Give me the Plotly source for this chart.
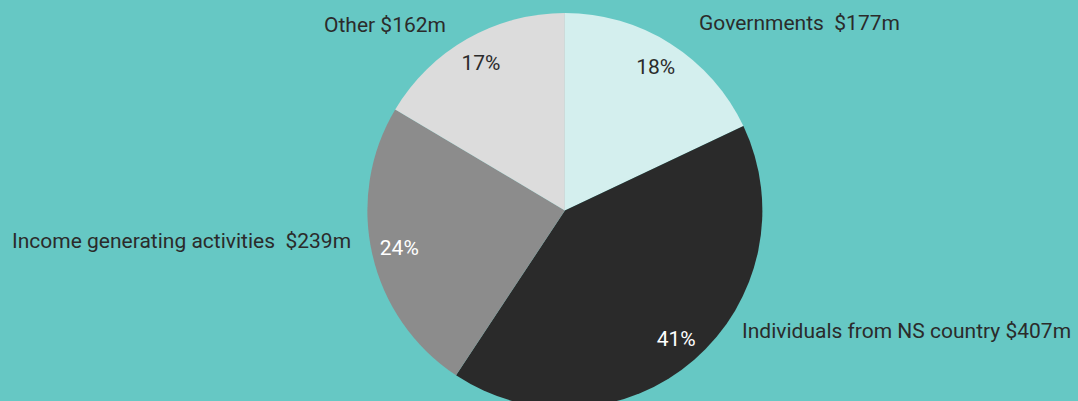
import plotly.graph_objects as go

categories = ["Governments", "Individuals from NS country", "Income generating activities", "Other"]
values = [177, 407, 239, 162]
pct_labels = ["18%", "41%", "24%", "17%"]
outer_labels = ["Governments\u00a0\u00a0$177m", "Individuals from NS country $407m",
                "Income generating activities\u00a0\u00a0$239m", "Other $162m"]
colors = ["#D4EFEE", "#2A2A2A", "#8C8C8C", "#DCDCDC"]
text_colors = ["#2B2B2B", "#FFFFFF", "#FFFFFF", "#2B2B2B"]
BG = "#66C8C4"
FONT = "Roboto"
DOMAIN = dict(x=[0.324, 0.724], y=[0, 1])

fig = go.Figure()
# the pie itself
fig.add_trace(go.Pie(
    labels=categories, values=values,
    textinfo="none", sort=False, direction="clockwise", rotation=0,
    marker=dict(colors=colors, line=dict(width=0)),
    hoverinfo="label+value", showlegend=False, domain=DOMAIN,
))
# transparent ring overlay carrying the percentage labels near the rim
fig.add_trace(go.Pie(
    labels=categories, values=values, text=pct_labels, hole=0.72,
    textinfo="text", textposition="inside", insidetextorientation="horizontal",
    sort=False, direction="clockwise", rotation=0,
    marker=dict(colors=["rgba(0,0,0,0)"] * 4, line=dict(width=0)),
    textfont=dict(family=FONT, size=21, color=text_colors),
    hoverinfo="skip", showlegend=False, domain=DOMAIN,
))

# outer labels (text annotations in paper coordinates of the plot area)
H_PLOT = 395
TOP = 13
ann_pos = [
    (697 / 1078, 1 - (23 - TOP) / H_PLOT, "left"),
    (740 / 1078, 1 - (331 - TOP) / H_PLOT, "left"),
    (353 / 1078, 1 - (241 - TOP) / H_PLOT, "right"),
    (448 / 1078, 1 - (25 - TOP) / H_PLOT, "right"),
]
for lbl, (x, y, anchor) in zip(outer_labels, ann_pos):
    fig.add_annotation(x=x, y=y, xref="paper", yref="paper", text=lbl,
                       showarrow=False, xanchor=anchor, yanchor="middle",
                       font=dict(family=FONT, size=21, color="#2B2B2B"))

fig.update_layout(
    width=1078, height=408,
    margin=dict(l=0, r=0, t=TOP, b=0),
    paper_bgcolor=BG, plot_bgcolor=BG,
)

fig.write_html("out.html", config={"displayModeBar": False},
               post_script="document.body.style.overflow='hidden';document.documentElement.style.overflow='hidden';document.body.style.margin='0';")
